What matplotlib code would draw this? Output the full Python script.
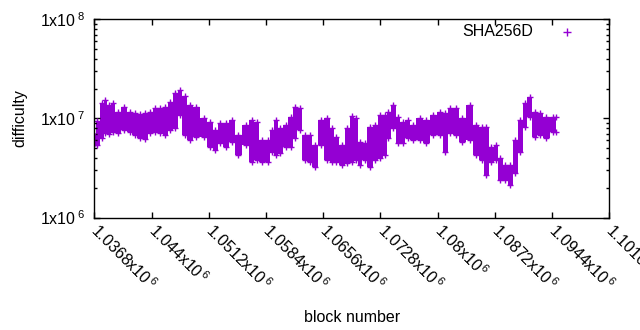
import matplotlib
matplotlib.use("Agg")
import matplotlib.pyplot as plt
from matplotlib.ticker import FixedLocator, FixedFormatter, LogLocator, NullFormatter
import numpy as np

plt.rcParams['font.family'] = ['Liberation Sans', 'DejaVu Sans']
plt.rcParams['mathtext.fontset'] = 'custom'
plt.rcParams['mathtext.rm'] = 'Liberation Sans'
plt.rcParams['mathtext.it'] = 'Liberation Sans:italic'
plt.rcParams['mathtext.bf'] = 'Liberation Sans:bold'

# block numbers and the spread of difficulty (high / low) around each of them
block = [1036890, 1037140, 1037770, 1038150, 1038650, 1039150, 1039780, 1040540,
         1041290, 1041920, 1042550, 1043180, 1043810, 1044440, 1045070, 1045700,
         1046330, 1046960, 1047580, 1048210, 1048840, 1049600, 1050600, 1051360,
         1051990, 1052620, 1053370, 1054130, 1054880, 1055890, 1056640, 1057270,
         1057900, 1058660, 1059160, 1059660, 1060170, 1060920, 1061550, 1062050,
         1062680, 1063310, 1063940, 1064570, 1065330, 1066080, 1066710, 1067210,
         1067970, 1068600, 1069230, 1069730, 1070230, 1070860, 1071490, 1072120,
         1072750, 1073380, 1073760, 1074390, 1075010, 1075640, 1076270, 1076900,
         1077780, 1078540, 1079420, 1080300, 1080930, 1081560, 1082310, 1083070,
         1084070, 1084830, 1085580, 1086090, 1086720, 1087350, 1087850, 1088480,
         1089110, 1089740, 1090370, 1090990, 1091620, 1092250, 1092880, 1093640,
         1094520, 1094890]
diff_high = [6.60e6, 9.36e6, 1.42e7, 1.53e7, 1.36e7, 1.42e7, 1.15e7, 1.30e7,
             1.15e7, 1.13e7, 1.10e7, 1.13e7, 1.15e7, 1.27e7, 1.27e7, 1.30e7,
             1.46e7, 1.80e7, 1.93e7, 1.68e7, 1.36e7, 1.30e7, 1.00e7, 9.15e6,
             7.59e6, 8.94e6, 8.94e6, 9.58e6, 6.75e6, 8.53e6, 9.58e6, 9.15e6,
             6.01e6, 6.01e6, 7.59e6, 9.58e6, 7.95e6, 8.53e6, 1.03e7, 1.30e7,
             1.27e7, 6.75e6, 6.75e6, 5.35e6, 9.58e6, 1.00e7, 7.95e6, 6.45e6,
             5.35e6, 7.95e6, 1.05e7, 1.00e7, 5.74e6, 5.61e6, 8.14e6, 8.53e6,
             1.08e7, 1.08e7, 1.15e7, 1.36e7, 1.03e7, 9.15e6, 9.58e6, 8.53e6,
             1.00e7, 9.58e6, 1.08e7, 1.15e7, 1.13e7, 1.27e7, 1.27e7, 1.00e7,
             1.36e7, 8.53e6, 8.14e6, 8.14e6, 5.11e6, 5.35e6, 3.96e6, 3.36e6,
             3.36e6, 6.01e6, 9.58e6, 1.42e7, 1.64e7, 1.15e7, 1.13e7, 1.03e7,
             1.03e7, 1.03e7]
diff_low = [5.61e6, 5.35e6, 6.30e6, 7.08e6, 6.92e6, 7.25e6, 7.08e6, 7.59e6,
            7.25e6, 6.75e6, 6.30e6, 6.15e6, 7.08e6, 7.25e6, 7.08e6, 6.75e6,
            7.59e6, 7.95e6, 1.08e7, 6.75e6, 6.01e6, 6.45e6, 6.45e6, 5.11e6,
            4.76e6, 5.61e6, 5.11e6, 5.74e6, 4.24e6, 5.35e6, 3.61e6, 3.78e6,
            3.61e6, 3.61e6, 4.55e6, 4.24e6, 4.44e6, 5.11e6, 5.11e6, 6.30e6,
            7.59e6, 3.78e6, 3.61e6, 3.21e6, 5.35e6, 3.78e6, 3.61e6, 3.61e6,
            3.36e6, 3.52e6, 3.61e6, 3.78e6, 3.36e6, 3.78e6, 3.21e6, 3.78e6,
            3.96e6, 4.24e6, 6.30e6, 7.95e6, 5.61e6, 5.61e6, 6.30e6, 6.01e6,
            6.01e6, 5.61e6, 6.75e6, 6.75e6, 4.55e6, 7.08e6, 6.75e6, 5.74e6,
            6.01e6, 4.24e6, 3.78e6, 2.66e6, 3.61e6, 3.78e6, 2.37e6, 2.37e6,
            2.11e6, 2.79e6, 4.55e6, 8.14e6, 1.03e7, 6.45e6, 6.75e6, 6.30e6,
            7.25e6, 7.25e6]

series_name = "SHA256D"
x_ticks = [1036800, 1044000, 1051200, 1058400, 1065600, 1072800, 1080000,
           1087200, 1094400, 1101600]
x_tick_labels = ['1.0368x10$^{\\,6}$', '1.044x10$^{\\,6}$', '1.0512x10$^{\\,6}$',
                 '1.0584x10$^{\\,6}$', '1.0656x10$^{\\,6}$', '1.0728x10$^{\\,6}$',
                 '1.08x10$^{\\,6}$', '1.0872x10$^{\\,6}$', '1.0944x10$^{\\,6}$',
                 '1.1016x10$^{\\,6}$']
y_ticks = [1e6, 1e7, 1e8]
y_tick_labels = ['1x10$^{\\,\\,6}$', '1x10$^{\\,\\,7}$', '1x10$^{\\,\\,8}$']

color = '#9400d3'
fs = 11.5

fig = plt.figure(figsize=(6.4, 3.3), dpi=100)
ax = fig.add_axes([94.3 / 640, 1 - 217.5 / 330, 515 / 640, 198.2 / 330])

ax.fill_between(block, diff_low, diff_high, step='mid', color=color, lw=0)
ax.plot(block, diff_high, ls='none', marker='+', ms=5, mew=1, color=color)
ax.plot(block, diff_low, ls='none', marker='+', ms=5, mew=1, color=color)

ax.set_yscale('log')
ax.set_xlim(x_ticks[0], x_ticks[-1])
ax.set_ylim(y_ticks[0], y_ticks[-1])

ax.xaxis.set_major_locator(FixedLocator(x_ticks))
ax.xaxis.set_major_formatter(FixedFormatter(x_tick_labels))
ax.yaxis.set_major_locator(FixedLocator(y_ticks))
ax.yaxis.set_major_formatter(FixedFormatter(y_tick_labels))
ax.yaxis.set_minor_locator(LogLocator(base=10, subs=np.arange(2, 10)))
ax.yaxis.set_minor_formatter(NullFormatter())

ax.tick_params(which='both', direction='in', top=True, right=True, width=1,
               labelsize=fs, colors='black')
ax.tick_params(which='major', length=4)
ax.tick_params(which='minor', length=2)
ax.tick_params(axis='y', pad=6)
ax.tick_params(axis='x', pad=7)
for lab in ax.get_xticklabels():
    lab.set_rotation(-45)
    lab.set_rotation_mode('anchor')
    lab.set_ha('left')
    lab.set_va('center')

for s in ax.spines.values():
    s.set_linewidth(1)
    s.set_color('black')

ax.set_xlabel('block number', fontsize=fs, labelpad=12)
ax.set_ylabel('difficulty', fontsize=fs, labelpad=9)

# key in the upper right corner, label before the symbol
ax.text(0.852, 0.936, series_name, transform=ax.transAxes, ha='right',
        va='center', fontsize=fs)
ax.plot([0.918], [0.936], transform=ax.transAxes, marker='+', ms=6, mew=1,
        color=color, ls='none')

fig.savefig('out.png', dpi=100)
